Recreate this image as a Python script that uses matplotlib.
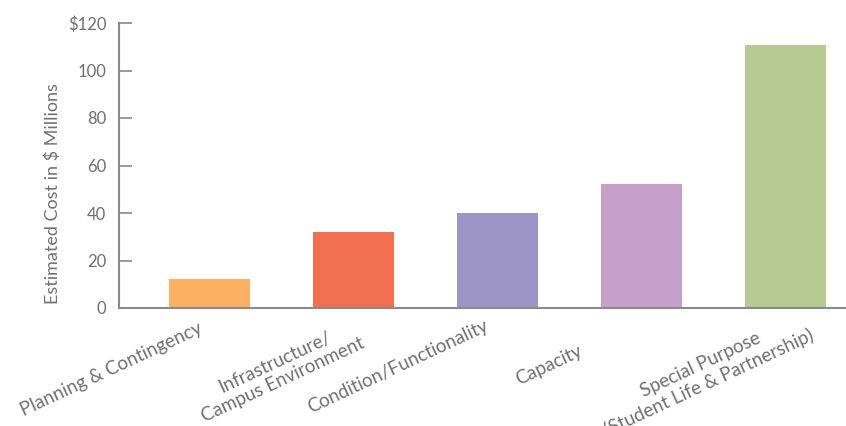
import matplotlib
matplotlib.use("Agg")
import matplotlib.pyplot as plt
from matplotlib.transforms import ScaledTranslation

categories = ["Planning & Contingency",
              "Infrastructure/\nCampus Environment",
              "Condition/Functionality",
              "Capacity",
              "Special Purpose\n(Student Life & Partnership)"]
values = [12.2, 32.0, 40.0, 52.2, 110.7]
colors = ["#FBB062", "#F26F51", "#9D94C7", "#C79FCB", "#B5CB92"]
yticks = [0, 20, 40, 60, 80, 100, 120]
ytick_labels = ["0", "20", "40", "60", "80", "100", r"\$120"]
ylabel = r"Estimated Cost in \$ Millions"

TEXT = "#707070"
AXIS = "#8a8a8a"
plt.rcParams['font.family'] = ['Lato', 'DejaVu Sans']

fig = plt.figure(figsize=(8.46, 4.26), dpi=100)
ax = fig.add_axes([119/846, 118/426, 727/846, 285/426])

x = list(range(len(categories)))
ax.bar(x, values, width=0.56, color=colors)
ax.set_xlim(-0.628, 4.42)
ax.set_ylim(0, 120)

ax.spines['top'].set_visible(False)
ax.spines['right'].set_visible(False)
for s in ('left', 'bottom'):
    ax.spines[s].set_color(AXIS)
    ax.spines[s].set_linewidth(1.5)

ax.set_yticks(yticks)
ax.set_yticklabels(ytick_labels)
ax.tick_params(axis='y', direction='in', length=9, width=1.2, color=AXIS,
               labelcolor=TEXT, labelsize=12, pad=9)
ax.tick_params(axis='x', length=0, labelcolor=TEXT, labelsize=13.5)

ax.set_xticks(x)
ax.set_xticklabels(categories, rotation=25, ha='center', va='center',
                   rotation_mode='anchor', multialignment='center',
                   linespacing=1.15)
# label offsets in pixels (dx, dy) relative to tick position
offsets = [(-98, -60), (-75, -62), (-100, -58), (-93, -56), (-81, -65)]
for lbl, (dx, dy) in zip(ax.get_xticklabels(), offsets):
    lbl.set_transform(lbl.get_transform() + ScaledTranslation(dx/100, (dy + 4)/100, fig.dpi_scale_trans))

ax.set_ylabel(ylabel, color=TEXT, fontsize=13)
ax.yaxis.set_label_coords(-0.080, 0.40)

fig.savefig("out.png", dpi=100)
